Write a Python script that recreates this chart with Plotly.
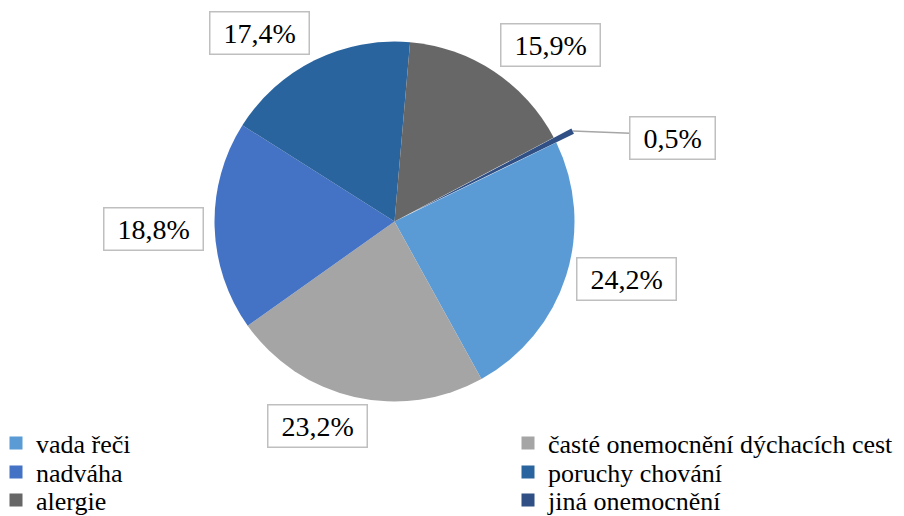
import math
import plotly.graph_objects as go

# ---- data ----
categories = ["vada řeči", "časté onemocnění dýchacích cest", "nadváha",
              "poruchy chování", "alergie", "jiná onemocnění"]
values = [24.2, 23.2, 18.8, 17.4, 15.9, 0.5]
colors = ["#5b9bd5", "#a5a5a5", "#4472c4", "#2a649e", "#676767", "#2f4f85"]
pulls = [0, 0, 0, 0, 0, 0.11]

# ---- layout tuning (pixels) ----
W, H = 904, 516
CX, CY, R = 394.5, 221.5, 180.0
ROT = 64
# (radius of label centre, angular shift) per slice
label_place = [(239, -3.7), (218.5, 7.7), (241.6, -0.2), (232, -9.3), (235.6, 7.9), (290, 10.2)]
FONT = "Liberation Serif"
LABEL_SIZE = 28
LEG_SIZE = 26

def px(x):
    return x / W

def py(y):
    return 1 - y / H

def text_width(s, size):
    em = {",": 0.25, "%": 0.833}
    return sum(em.get(c, 0.5) for c in s) * size

maxpull = max(pulls)
rr = R * (1 + maxpull)

fig = go.Figure()
fig.add_trace(go.Pie(
    labels=categories, values=values, sort=False, direction="clockwise",
    rotation=ROT, pull=pulls, textinfo="none", hoverinfo="label+percent",
    marker=dict(colors=colors, line=dict(width=0)),
    domain=dict(x=[px(CX - rr), px(CX + rr)], y=[py(CY + rr), py(CY - rr)]),
    showlegend=False,
))

# legend entries (two columns, three rows)
col_x = [-4, 508]
row_y = [443, 472, 500]
legends = {}
for i, (name, col) in enumerate(zip(categories, colors)):
    key = "legend" if i == 0 else f"legend{i + 1}"
    fig.add_trace(go.Scatter(
        x=[None], y=[None], mode="markers", name=name,
        marker=dict(symbol="square", size=13, color=col),
        legend=key, showlegend=True, hoverinfo="skip",
    ))
    legends[key] = dict(
        x=px(col_x[i % 2]), y=py(row_y[i // 2]), xanchor="left", yanchor="middle",
        bgcolor="rgba(0,0,0,0)", borderwidth=0,
        font=dict(family=FONT, size=LEG_SIZE, color="#000000"),
    )

total = sum(values)
cum = 0.0
annotations = []
shapes = []
for i, v in enumerate(values):
    mid = ROT + (cum + v / 2) / total * 360
    cum += v
    rl, dth = label_place[i]
    th = math.radians(mid + dth)
    lx = CX + rl * math.sin(th)
    ly = CY - rl * math.cos(th)
    txt = f"{v:.1f}%".replace(".", ",")
    tw = text_width(txt, LABEL_SIZE)
    bw = tw + 26
    annotations.append(dict(
        x=px(lx), y=py(ly), xref="paper", yref="paper", text=txt, showarrow=False,
        xanchor="center", yanchor="middle", width=bw, height=41, borderpad=0,
        bordercolor="#bfbfbf", borderwidth=1.5, bgcolor="#ffffff",
        font=dict(family=FONT, size=LABEL_SIZE, color="#000000"),
    ))
    if pulls[i] > 0:
        tm = math.radians(mid)
        r0 = R * (1 + pulls[i])
        sx = CX + r0 * math.sin(tm)
        sy = CY - r0 * math.cos(tm)
        ex = lx - bw / 2
        ey = ly - 5
        shapes.append(dict(type="line", xref="paper", yref="paper",
                           x0=px(sx), y0=py(sy), x1=px(ex), y1=py(ey),
                           line=dict(color="#a6a6a6", width=1.5)))

fig.update_layout(
    width=W, height=H, margin=dict(l=0, r=0, t=0, b=0, autoexpand=False),
    paper_bgcolor="#ffffff", plot_bgcolor="#ffffff",
    font=dict(family=FONT, color="#000000"),
    xaxis=dict(visible=False), yaxis=dict(visible=False),
    annotations=annotations, shapes=shapes,
    **legends,
)

fig.write_html("out.html", config={"displayModeBar": False},
               post_script="document.body.style.margin='0px';document.body.style.overflow='hidden';")
